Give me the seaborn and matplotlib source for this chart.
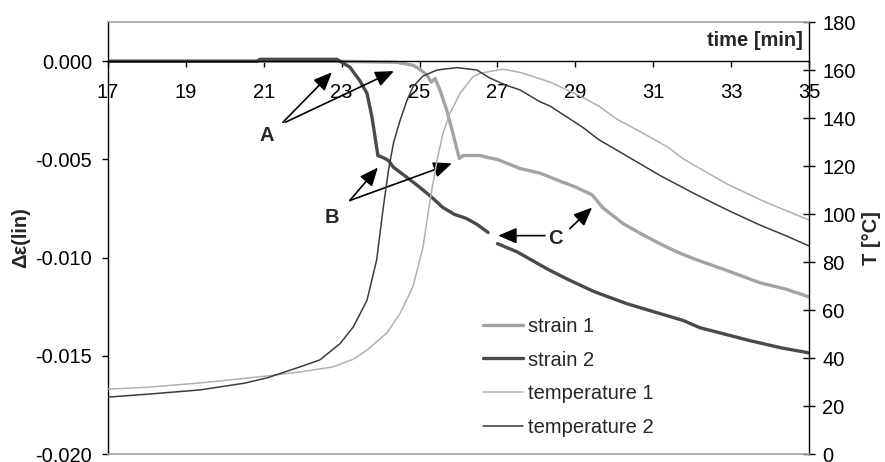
import numpy as np
import pandas as pd
import matplotlib
matplotlib.use("Agg")
import matplotlib.pyplot as plt
from matplotlib.ticker import FormatStrFormatter
from matplotlib.lines import Line2D
import seaborn as sns

# ---- measured series ----
strain1_t = [17, 23, 24.4, 24.83, 25.0, 25.19, 25.3, 25.4, 25.53, 25.7, 25.86, 26.02,
             26.12, 26.55, 26.75, 27.0, 27.58, 28.1, 28.6, 29.0, 29.43, 29.7, 30.23,
             30.7, 31.18, 31.6, 32.03, 32.9, 33.74, 34.4, 35]
strain1_v = [0.0, 0.0, -0.00005, -0.0002, -0.0004, -0.0007, -0.00107, -0.00087, -0.0015,
             -0.0025, -0.0037, -0.00495, -0.0048, -0.0048, -0.0049, -0.0050, -0.00546,
             -0.0057, -0.0061, -0.0064, -0.0068, -0.00745, -0.00827, -0.0088, -0.0093,
             -0.0097, -0.01005, -0.01066, -0.01128, -0.0116, -0.0120]

strain2a_t = [17, 20.83, 20.9, 22.88, 22.96, 23.21, 23.47, 23.65, 23.78, 23.86, 23.93,
              24.06, 24.2, 24.33, 24.6, 24.93, 25.3, 25.6, 25.9, 26.2, 26.47, 26.76]
strain2a_v = [0.0, 0.0, 0.0001, 0.0001, 0.0, -0.0003, -0.0010, -0.00163, -0.00286,
              -0.0039, -0.0048, -0.0049, -0.00505, -0.0054, -0.0058, -0.0063, -0.0069,
              -0.00745, -0.0078, -0.0080, -0.0083, -0.00872]
strain2b_t = [27.0, 27.5, 27.9, 28.3, 28.8, 29.45, 29.63, 30.33, 30.92, 31.77, 32.2,
              33.49, 34.3, 35]
strain2b_v = [-0.00929, -0.0097, -0.01015, -0.0106, -0.0111, -0.0117, -0.01184,
              -0.01235, -0.0127, -0.0132, -0.01357, -0.01423, -0.0146, -0.01485]

temp1_t = [17, 18, 19.36, 20.5, 21.08, 21.93, 22.78, 23.3, 23.65, 24.16, 24.5, 24.83,
           25.09, 25.27, 25.45, 25.6, 25.78, 26.04, 26.37, 26.55, 26.9, 27.15, 27.58,
           28.35, 29.2, 29.6, 30.07, 30.7, 31.36, 31.77, 32.3, 32.9, 33.74, 34.4, 35]
temp1_v = [27, 27.8, 29.6, 31.5, 32.5, 34.2, 36.3, 39.5, 43.3, 50.4, 58.6, 69.7, 86.4,
           105.8, 122.5, 133.6, 141.9, 150.3, 157.2, 158.6, 159.7, 160.3, 159, 155,
           148.5, 145, 139.5, 134, 128, 123, 118, 112.5, 106, 101.5, 97.5]

temp2_t = [17, 18.08, 19.36, 20.5, 21.08, 21.93, 22.44, 22.96, 23.3, 23.65, 23.9,
           24.06, 24.2, 24.33, 24.5, 24.68, 24.83, 25.09, 25.45, 25.96, 26.47, 26.8,
           27.2, 27.58, 28.1, 28.35, 29.2, 29.6, 30.58, 31.18, 32.03, 32.9, 33.74,
           34.4, 35]
temp2_v = [23.7, 25, 26.7, 29.5, 31.7, 36.3, 39.2, 46, 53, 64, 81, 101.7, 118, 129.6,
           139, 147.5, 153, 157.5, 160, 161, 160, 156.7, 153.8, 151.7, 146.7, 145, 136,
           131, 121.7, 116, 108.7, 101.7, 95.4, 91, 86.7]

x_ticks = list(range(17, 36, 2))
left_ticks = [-0.020, -0.015, -0.010, -0.005, 0.000]
right_ticks = list(range(0, 181, 20))

series_names = ["strain 1", "strain 2", "temperature 1", "temperature 2"]
c_s1, c_s2, c_t1, c_t2 = "#a3a3a3", "#4a4a4a", "#b0b0b0", "#3c3c3c"

sns.set_style("white")
plt.rcParams["font.family"] = ["Liberation Sans", "DejaVu Sans"]
plt.rcParams["axes.unicode_minus"] = False
FS = 14.5

fig = plt.figure(figsize=(8.85, 4.62), dpi=100)
ax = fig.add_axes([108 / 885, 8 / 462, 701 / 885, 432 / 462])
ax.patch.set_alpha(0)
ax2 = ax.twinx()

s1 = pd.DataFrame({"t": strain1_t, "v": strain1_v})
s2a = pd.DataFrame({"t": strain2a_t, "v": strain2a_v})
s2b = pd.DataFrame({"t": strain2b_t, "v": strain2b_v})
t1 = pd.DataFrame({"t": temp1_t, "v": temp1_v})
t2 = pd.DataFrame({"t": temp2_t, "v": temp2_v})

# strain curves on the left axis
for df, col in ((s1, c_s1), (s2a, c_s2), (s2b, c_s2)):
    sns.lineplot(data=df, x="t", y="v", ax=ax, color=col, lw=2.4, sort=False,
                 estimator=None, legend=False)

# temperature curves on the right axis
for df, col in ((t1, c_t1), (t2, c_t2)):
    sns.lineplot(data=df, x="t", y="v", ax=ax2, color=col, lw=1.1, sort=False,
                 estimator=None, legend=False)

ax.set_xlim(17, 35)
ax.set_ylim(-0.020, 0.002)
ax2.set_ylim(0, 180)

# horizontal time axis runs along zero strain
ax.spines["bottom"].set_position(("data", 0))
ax.spines["bottom"].set_color("black")
ax.spines["left"].set_color("black")
ax.spines["top"].set_visible(False)
ax.spines["right"].set_visible(False)
for s in ("left", "bottom"):
    ax.spines[s].set_linewidth(1.0)

ax2.spines["left"].set_visible(False)
ax2.spines["right"].set_color("black")
ax2.spines["right"].set_linewidth(1.0)
ax2.spines["top"].set_color("#a0a0a0")
ax2.spines["bottom"].set_color("#a0a0a0")
ax2.spines["top"].set_linewidth(1.2)
ax2.spines["bottom"].set_linewidth(1.2)

ax.set_xticks(x_ticks)
ax.set_xticklabels([str(v) for v in x_ticks])
ax.set_yticks(left_ticks)
ax.yaxis.set_major_formatter(FormatStrFormatter("%.3f"))
ax2.set_yticks(right_ticks)

ax.tick_params(axis="x", direction="out", length=4, width=1, pad=11.5,
               labelsize=FS, bottom=True, colors="black")
ax.tick_params(axis="y", direction="out", length=4.5, width=1, pad=7,
               labelsize=FS, left=True, colors="black")
ax2.tick_params(axis="y", direction="inout", length=9, width=1, pad=5,
                labelsize=FS, right=True, colors="black")

ax.set_xlabel("")
ax.set_ylabel("Δε(lin)", fontsize=FS, fontweight="bold")
ax.yaxis.set_label_coords(-0.111, 0.5)
ax2.set_ylabel("T [°C]", fontsize=FS, fontweight="bold")
ax2.yaxis.set_label_coords(1.0756, 0.5)
ax2.set_xlabel("")

ax.text(34.85, 0.00107, "time [min]", fontsize=FS, fontweight="bold",
        ha="right", va="center")

# annotations
arrow = dict(arrowstyle="-|>,head_length=0.7,head_width=0.3", color="black",
             lw=1.2, mutation_scale=16, shrinkA=0, shrinkB=0)


def pointer(tail, tip):
    ax.annotate("", xy=tip, xytext=tail, arrowprops=arrow)


pointer((21.49, -0.00311), (22.75, -0.00056))
pointer((21.55, -0.00311), (24.34, -0.00050))
ax.text(21.08, -0.00378, "A", fontsize=FS, fontweight="bold", ha="center", va="center")

pointer((23.21, -0.00709), (23.93, -0.00541))
pointer((23.21, -0.00709), (25.83, -0.00520))
ax.text(22.75, -0.00796, "B", fontsize=FS, fontweight="bold", ha="center", va="center")

pointer((28.22, -0.00888), (27.02, -0.00888))
pointer((28.86, -0.00852), (29.43, -0.00745))
ax.text(28.48, -0.00903, "C", fontsize=FS, fontweight="bold", ha="center", va="center")

handles = [Line2D([], [], color=c_s1, lw=2.4),
           Line2D([], [], color=c_s2, lw=2.4),
           Line2D([], [], color=c_t1, lw=1.1),
           Line2D([], [], color=c_t2, lw=1.1)]
ax2.legend(handles, series_names, loc="upper left", bbox_to_anchor=(0.535, 0.318),
           frameon=False, fontsize=FS, handlelength=2.0, handletextpad=0.25,
           labelspacing=0.74, borderpad=0, borderaxespad=0)

fig.savefig("out.png", dpi=100)
